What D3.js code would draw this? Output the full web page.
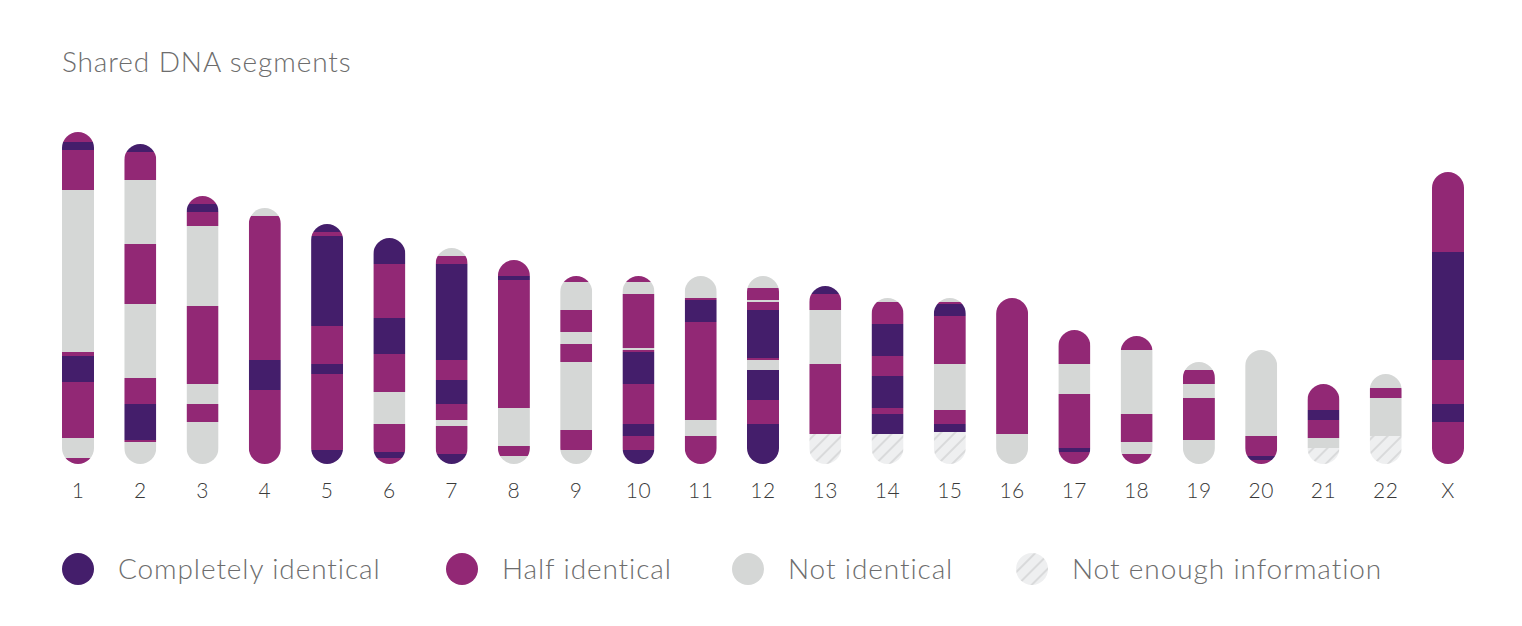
<!DOCTYPE html>
<html>
<head>
<meta charset="utf-8">
<script src="https://cdn.jsdelivr.net/npm/d3@7/dist/d3.min.js"></script>
<style>
  body { margin: 0; background: #fff; font-family: Lato, "Open Sans", sans-serif; }
  .title { font-weight: 300; fill: #6d6d6d; letter-spacing: 0.9px; }
  .chr-label { font-weight: 300; fill: #3a3a3a; letter-spacing: 0.5px; }
  .legend text { font-weight: 300; fill: #6d6d6d; letter-spacing: 0.9px; }
</style>
</head>
<body>
<div id="chart"></div>
<script>
// chromosome names, left to right
const chromosomes = ["1", "2", "3", "4", "5", "6", "7", "8", "9", "10", "11",
  "12", "13", "14", "15", "16", "17", "18", "19", "20", "21", "22", "X"];

// segment kinds: c = completely identical, h = half, n = not identical, u = not enough info
// each chromosome: list of [kind, length] read from the top down
const segments = [
  [["h", 10], ["c", 8], ["h", 40], ["n", 162], ["h", 4], ["c", 26], ["h", 56], ["n", 20], ["h", 6]],
  [["c", 8], ["h", 28], ["n", 64], ["h", 60], ["n", 74], ["h", 26], ["c", 36], ["h", 2], ["n", 22]],
  [["h", 8], ["c", 8], ["h", 14], ["n", 80], ["h", 78], ["n", 20], ["h", 18], ["n", 42]],
  [["n", 8], ["h", 144], ["c", 30], ["h", 74]],
  [["c", 8], ["h", 4], ["c", 90], ["h", 38], ["c", 10], ["h", 76], ["c", 14]],
  [["c", 26], ["h", 54], ["c", 36], ["h", 38], ["n", 32], ["h", 28], ["c", 6], ["h", 6]],
  [["n", 8], ["h", 8], ["c", 96], ["h", 20], ["c", 24], ["h", 16], ["n", 6], ["h", 28], ["c", 10]],
  [["h", 16], ["c", 4], ["h", 128], ["n", 38], ["h", 10], ["n", 8]],
  [["h", 6], ["n", 28], ["h", 22], ["n", 12], ["h", 18], ["n", 68], ["h", 20], ["n", 14]],
  [["h", 6], ["n", 12], ["h", 54], ["n", 2], ["h", 2], ["c", 32], ["h", 40], ["c", 12], ["h", 14], ["c", 14]],
  [["n", 22], ["h", 2], ["c", 22], ["h", 98], ["n", 16], ["h", 28]],
  [["n", 12], ["h", 12], ["n", 2], ["h", 8], ["c", 48], ["h", 2], ["n", 10], ["c", 30], ["h", 24], ["c", 40]],
  [["c", 8], ["h", 16], ["n", 54], ["h", 70], ["u", 30]],
  [["n", 4], ["h", 22], ["c", 32], ["h", 20], ["c", 32], ["h", 6], ["c", 20], ["u", 30]],
  [["n", 4], ["h", 2], ["c", 12], ["h", 48], ["n", 46], ["h", 14], ["c", 8], ["u", 32]],
  [["h", 136], ["n", 30]],
  [["h", 34], ["n", 30], ["h", 54], ["c", 4], ["h", 12]],
  [["h", 14], ["n", 64], ["h", 28], ["n", 12], ["h", 10]],
  [["n", 8], ["h", 14], ["n", 14], ["h", 42], ["n", 24]],
  [["n", 86], ["h", 20], ["c", 4], ["h", 4]],
  [["h", 26], ["c", 10], ["h", 18], ["n", 10], ["u", 16]],
  [["n", 14], ["h", 10], ["n", 38], ["u", 28]],
  [["h", 80], ["c", 108], ["h", 44], ["c", 18], ["h", 42]]
];

const legendKeys = ["c", "h", "n", "u"];
const legendLabels = ["Completely identical", "Half identical", "Not identical", "Not enough information"];

const width = 1522, height = 626;
const barWidth = 32;

const colors = { c: "#441e6b", h: "#922875", n: "#d5d7d6", u: "url(#noinfo)" };

const svg = d3.select("#chart").append("svg")
  .attr("width", width)
  .attr("height", height);

const defs = svg.append("defs");

// striped fill for "not enough information"
const pattern = defs.append("pattern")
  .attr("id", "noinfo")
  .attr("patternUnits", "userSpaceOnUse")
  .attr("width", 10)
  .attr("height", 10)
  .attr("patternTransform", "rotate(45)");
pattern.append("rect").attr("width", 10).attr("height", 10).attr("fill", "#eeeff0");
pattern.append("rect").attr("x", 0).attr("width", 2).attr("height", 10).attr("fill", "#d9dadb");

svg.append("text")
  .attr("class", "title")
  .attr("x", 62)
  .attr("y", 72)
  .style("font-size", "28px")
  .text("Shared DNA segments");

const x = d3.scalePoint()
  .domain(chromosomes)
  .range([78, 1448]);

const y = d3.scaleLinear()
  .domain([0, 340])
  .range([464, 124]);

const data = chromosomes.map((name, i) => {
  const segs = segments[i];
  const total = d3.sum(segs, s => s[1]);
  let pos = total;
  const parts = segs.map(s => {
    const top = pos;
    pos -= s[1];
    return { kind: s[0], top: top, bottom: pos };
  });
  return { name, total, parts };
});

const chr = svg.append("g").attr("class", "chromosomes")
  .selectAll("g")
  .data(data)
  .enter()
  .append("g")
  .attr("transform", d => `translate(${x(d.name) - barWidth / 2},0)`);

chr.append("clipPath")
  .attr("id", (d, i) => "clip" + i)
  .append("rect")
  .attr("x", 0)
  .attr("y", d => y(d.total))
  .attr("width", barWidth)
  .attr("height", d => y(0) - y(d.total))
  .attr("rx", barWidth / 2)
  .attr("ry", barWidth / 2);

chr.append("g")
  .attr("clip-path", (d, i) => `url(#clip${i})`)
  .selectAll("rect")
  .data(d => d.parts)
  .enter()
  .append("rect")
  .attr("x", 0)
  .attr("width", barWidth)
  .attr("y", p => y(p.top))
  .attr("height", p => y(p.bottom) - y(p.top))
  .attr("fill", p => colors[p.kind]);

svg.append("g")
  .selectAll("text")
  .data(chromosomes)
  .enter()
  .append("text")
  .attr("class", "chr-label")
  .attr("x", d => x(d))
  .attr("y", 498)
  .attr("text-anchor", "middle")
  .style("font-size", "21px")
  .text(d => d);

// legend
const legendX = d3.scaleOrdinal()
  .domain(legendKeys)
  .range([78, 462, 748, 1032]);

const legend = svg.append("g")
  .attr("class", "legend")
  .selectAll("g")
  .data(legendKeys)
  .enter()
  .append("g")
  .attr("transform", d => `translate(${legendX(d)},569)`);

legend.append("circle")
  .attr("r", 16)
  .attr("fill", d => colors[d]);

legend.append("text")
  .attr("x", 40)
  .attr("y", 10)
  .style("font-size", "28px")
  .text((d, i) => legendLabels[i]);
</script>
</body>
</html>
